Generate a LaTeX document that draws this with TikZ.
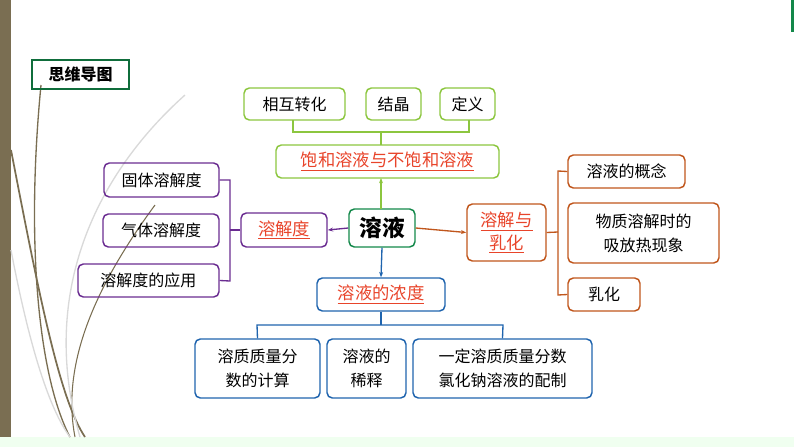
\documentclass[tikz,border=0pt]{standalone}
\usepackage{fontspec}
\setmainfont{Noto Sans CJK SC}
\usetikzlibrary{arrows.meta}
\definecolor{gr}{HTML}{8CC63F}
\definecolor{pu}{HTML}{6A2C91}
\definecolor{bl}{HTML}{1F64AE}
\definecolor{orr}{HTML}{C0561C}
\definecolor{rd}{HTML}{E8442A}
\definecolor{dg}{HTML}{13884A}
\definecolor{ol}{HTML}{7A6E52}
\newcommand{\ul}[1]{\underline{#1}}
\tikzset{
 bx/.style={draw=#1,line width=1.1pt,rounded corners=4pt,inner sep=0pt,align=center,font=\fontsize{12}{18}\selectfont},
 ln/.style={draw=#1,line width=1pt},
 ar/.style={draw=#1,line width=1pt,-{Stealth[length=4pt,width=3pt]}},
 hl/.style={text=rd,font=\fontsize{13}{17}\selectfont},
}
\begin{document}
\begin{tikzpicture}[x=0.75pt,y=-0.75pt]
\useasboundingbox (0,0) rectangle (794,447);
\fill[ol] (0,0) rectangle (11,437);
\fill[green!6!white] (0,437) rectangle (794,447);
\fill[dg] (791,0) rectangle (794,32);
% decorative curves
\draw[ol,line width=1pt] (41,85) .. controls (25,250) and (40,380) .. (70,437);
\draw[ol,line width=1.3pt] (11,150) .. controls (40,300) and (60,400) .. (85,437);
\draw[ol,line width=0.8pt] (155,205) .. controls (100,280) and (60,360) .. (75,437);
\draw[gray!30,line width=1pt] (185,95) .. controls (90,180) and (40,300) .. (80,437);
\draw[gray!30,line width=1pt] (11,250) .. controls (30,350) and (50,410) .. (70,437);
\node[draw=dg!80!black,line width=1pt,minimum width=97*0.75pt,minimum height=29*0.75pt,font=\fontsize{12}{14}\selectfont\bfseries] (mm) at (80.5,74.5) {思维导图};
% center
\node[bx=dg,minimum width=66*0.75pt,minimum height=38*0.75pt,font=\fontsize{17}{20}\selectfont\bfseries] (c) at (382,228) {溶液};
% green
\node[bx=gr,minimum width=223*0.75pt,minimum height=33*0.75pt,hl] (s) at (387.5,161.5) {\ul{饱和溶液与不饱和溶液}};
\node[bx=gr,minimum width=101*0.75pt,minimum height=32*0.75pt] (g1) at (294.5,104) {相互转化};
\node[bx=gr,minimum width=55*0.75pt,minimum height=32*0.75pt] (g2) at (393.5,104) {结晶};
\node[bx=gr,minimum width=55*0.75pt,minimum height=32*0.75pt] (g3) at (467.5,104) {定义};
\coordinate (gj) at (381,132);
\draw[ln=gr] (293,120) |- (469,132) -- (469,120);
\draw[ln=gr] (gj) -- (381,145);
\draw[ar=gr] (381,209) -- (381,178);
% purple
\node[bx=pu,minimum width=86*0.75pt,minimum height=34*0.75pt,hl] (p) at (284,230) {\ul{溶解度}};
\node[bx=pu,minimum width=115*0.75pt,minimum height=34*0.75pt] (p1) at (161.5,180) {固体溶解度};
\node[bx=pu,minimum width=116*0.75pt,minimum height=33*0.75pt] (p2) at (161,230.5) {气体溶解度};
\node[bx=pu,minimum width=141*0.75pt,minimum height=33*0.75pt] (p3) at (148.5,280.5) {溶解度的应用};
\draw[ar=pu] (c.west) -- (p.east);
\draw[ln=pu] (p1.east) -- (230,180) -- (230,281) -- (p3.east);
\draw[ln=pu] (p.west) -- (230,230);
% orange
\node[bx=orr,minimum width=79*0.75pt,minimum height=57*0.75pt,hl] (o) at (506.5,232.5) {\ul{溶解与}\\\ul{乳化}};
\node[bx=orr,minimum width=117*0.75pt,minimum height=33*0.75pt] (o1) at (626.5,171.5) {溶液的概念};
\node[bx=orr,minimum width=151*0.75pt,minimum height=60*0.75pt] (o2) at (643.5,233) {物质溶解时的\\吸放热现象};
\node[bx=orr,minimum width=72*0.75pt,minimum height=33*0.75pt] (o3) at (604,294.5) {乳化};
\draw[ar=orr] (c.east) -- (o.west);
\draw[ln=orr] (o1.west) -- (558,171) -- (558,295) -- (o3.west);
\draw[ln=orr] (o.east) -- (558,232);
% blue
\node[bx=bl,minimum width=128*0.75pt,minimum height=33*0.75pt,hl] (b) at (381,294.5) {\ul{溶液的浓度}};
\node[bx=bl,minimum width=125*0.75pt,minimum height=59*0.75pt] (b1) at (257.5,368.5) {溶质质量分\\数的计算};
\node[bx=bl,minimum width=79*0.75pt,minimum height=59*0.75pt] (b2) at (366.5,368.5) {溶液的\\稀释};
\node[bx=bl,minimum width=179*0.75pt,minimum height=59*0.75pt] (b3) at (502.5,368.5) {一定溶质质量分数\\氯化钠溶液的配制};
\draw[ar=bl] (c.south) -- (b.north);
\draw[ln=bl] (b1.north) -- (257,325) -- (503,325) -- (b3.north);
\draw[ln=bl] (b.south) -- (381,325);
\end{tikzpicture}
\end{document}
